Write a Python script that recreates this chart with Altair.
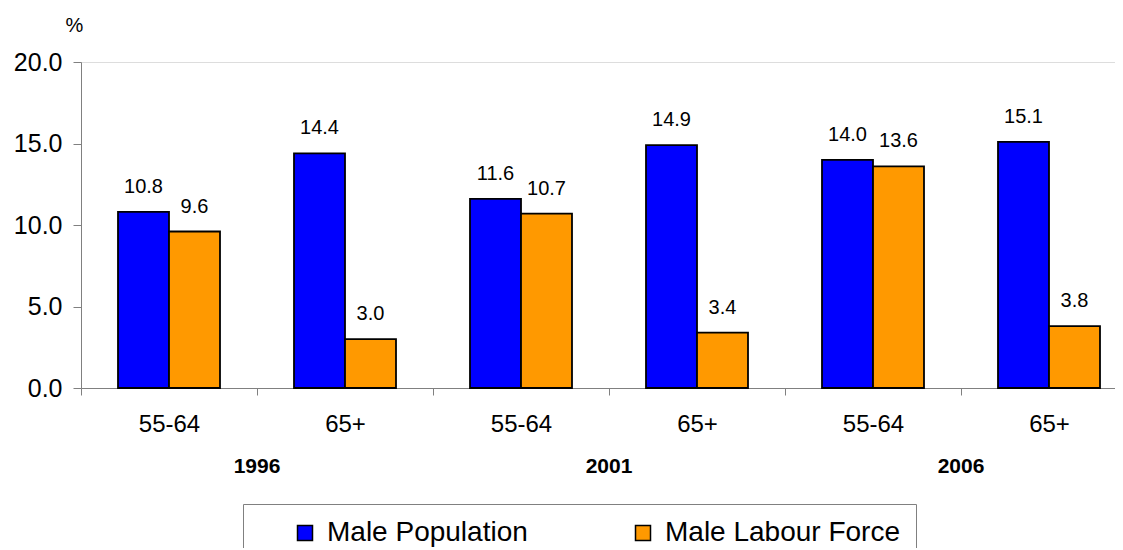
import altair as alt
import pandas as pd

years = ["1996", "1996", "2001", "2001", "2006", "2006"]
ages = ["55-64", "65+", "55-64", "65+", "55-64", "65+"]
male_population = [10.8, 14.4, 11.6, 14.9, 14.0, 15.1]
male_labour_force = [9.6, 3.0, 10.7, 3.4, 13.6, 3.8]
series = ["Male Population", "Male Labour Force"]
colors = ["#0000FF", "#FF9900"]
year_labels = ["1996", "2001", "2006"]
y_ticks = [0, 5, 10, 15, 20]

cats = [f"{y}|{a}" for y, a in zip(years, ages)]
rows = []
for c, p, l in zip(cats, male_population, male_labour_force):
    rows.append({"cat": c, "series": series[0], "value": p})
    rows.append({"cat": c, "series": series[1], "value": l})
df = pd.DataFrame(rows)
year_df = pd.DataFrame({"year": year_labels,
                        "cat": [c for c in cats if c.endswith("65+")]})

FONT = "Liberation Sans"
xscale = alt.Scale(domain=cats, range=[0, 1056], paddingInner=0, paddingOuter=0)
offscale = alt.Scale(domain=series, paddingInner=0, paddingOuter=0.7255)

base = alt.Chart(df)

bars = base.mark_bar(stroke="black", strokeWidth=1.8).encode(
    x=alt.X("cat:N", scale=xscale, sort=cats,
            axis=alt.Axis(title=None, labelExpr="split(datum.label, '|')[1]",
                          labelAngle=0, labelFontSize=24, labelColor="black",
                          tickBand="extent", tickSize=7, tickColor="#808080",
                          domainColor="#808080", labelPadding=17, grid=False)),
    xOffset=alt.XOffset("series:N", sort=series, scale=offscale),
    y=alt.Y("value:Q", scale=alt.Scale(domain=[0, 20], nice=False),
            axis=alt.Axis(values=y_ticks, format=".1f", labelFontSize=25,
                          labelColor="black", tickSize=8, tickColor="#808080",
                          domainColor="#808080", labelPadding=11, grid=False,
                          title="%", titleAngle=0, titleX=-7, titleY=-31,
                          titleAlign="center", titleBaseline="alphabetic",
                          titleFontWeight="normal", titleFontSize=20,
                          titleColor="black")),
    color=alt.Color("series:N", sort=series,
                    scale=alt.Scale(domain=series, range=colors),
                    legend=alt.Legend(title=None, orient="none", legendX=162,
                                      legendY=442, direction="horizontal",
                                      symbolType="square", symbolSize=225,
                                      symbolStrokeColor="black",
                                      symbolStrokeWidth=1.5,
                                      symbolOffset=33,
                                      labelFontSize=28, labelFont=FONT,
                                      labelColor="black", labelOffset=8,
                                      columnPadding=68, padding=15,
                                      strokeColor="#808080", fillColor="white",
                                      labelLimit=400)),
)

labels = base.mark_text(fontSize=20, font=FONT, color="black",
                        baseline="alphabetic", dy=-19).encode(
    x=alt.X("cat:N", scale=xscale, sort=cats),
    xOffset=alt.XOffset("series:N", sort=series, scale=offscale),
    y=alt.Y("value:Q"),
    text=alt.Text("value:Q", format=".1f"),
)

year_text = alt.Chart(year_df).mark_text(fontSize=21, font=FONT,
                                         fontWeight="bold", color="black",
                                         baseline="alphabetic").encode(
    x=alt.X("cat:N", scale=xscale, sort=cats, bandPosition=0),
    y=alt.value(411),
    text="year:N",
)

chart = alt.layer(bars, labels, year_text).properties(
    width=1034, height=326,
    autosize=alt.AutoSizeParams(type="none"),
    padding={"left": 73, "top": 54, "right": 0, "bottom": 160},
).configure_view(stroke=None).configure(font=FONT)

chart.save("out.html", embed_options={"renderer": "svg", "actions": False})
